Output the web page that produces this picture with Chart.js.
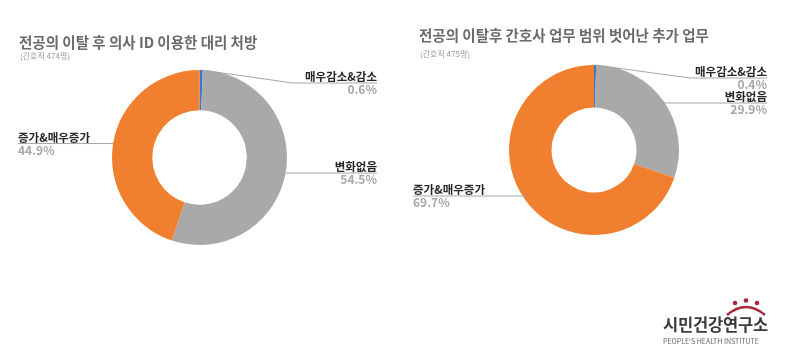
<!DOCTYPE html>
<html>
<head>
<meta charset="utf-8">
<script src="https://cdn.jsdelivr.net/npm/chart.js@4/dist/chart.umd.min.js"></script>
<style>
  body { margin: 0; background: #fff; font-family: "Noto Sans CJK KR", "Noto Sans", sans-serif; }
  #wrap { position: relative; width: 800px; height: 354px; overflow: hidden; }
  .box { position: absolute; top: 0; width: 400px; height: 354px; }
  .title { position: absolute; font-size: 14.5px; font-weight: bold; color: #6a6a6a; white-space: nowrap; }
  .sub { position: absolute; font-size: 8px; color: #9a9a9a; white-space: nowrap; }
  #logo { position: absolute; left: 660px; top: 294px; width: 120px; }
  #logo .kr { position: absolute; left: 3px; top: 18px; font-size: 16.5px; font-weight: bold; color: #3a3a3a; letter-spacing: -0.2px; white-space: nowrap; }
  #logo .en { position: absolute; left: 3px; top: 42px; font-size: 7px; color: #666; white-space: nowrap; letter-spacing: 0px; }
</style>
</head>
<body>
<div id="wrap">
  <div class="box" style="left:0"><canvas id="chartLeft" width="400" height="354"></canvas></div>
  <div class="box" style="left:400px"><canvas id="chartRight" width="400" height="354"></canvas></div>
  <div class="title" style="left:19px; top:31px">전공의 이탈 후 의사 ID 이용한 대리 처방</div>
  <div class="sub" style="left:20px; top:50px">(간호직 474명)</div>
  <div class="title" style="left:419px; top:24px">전공의 이탈후 간호사 업무 범위 벗어난 추가 업무</div>
  <div class="sub" style="left:420px; top:48px">(간호직 475명)</div>
  <div id="logo">
    <svg width="120" height="22" style="position:absolute;left:0;top:0">
      <circle cx="75" cy="9" r="2.3" fill="#a8283a"/>
      <circle cx="86" cy="6.5" r="2.3" fill="#a8283a"/>
      <circle cx="97" cy="9" r="2.3" fill="#a8283a"/>
      <path d="M67 21 Q86 5 105 21" stroke="#a8283a" stroke-width="2.6" fill="none"/>
    </svg>
    <div class="kr">시민건강연구소</div>
    <div class="en">PEOPLE'S HEALTH INSTITUTE</div>
  </div>
</div>
<script>
// 응답 항목
const categories = ['매우감소&감소', '변화없음', '증가&매우증가'];
// 의사 ID 이용한 대리 처방 (%)
const proxyPrescription = [0.6, 54.5, 44.9];
// 업무 범위 벗어난 추가 업무 (%)
const extraDuties = [0.4, 29.9, 69.7];
const sliceColors = ['#4472c4', '#a9a9a9', '#f0802f'];

// 라벨 + 지시선 그리기
const calloutPlugin = {
  id: 'callouts',
  afterDatasetsDraw(chart, args, opts) {
    const { ctx } = chart;
    const meta = chart.getDatasetMeta(0);
    const values = chart.data.datasets[0].data;
    meta.data.forEach((arc, i) => {
      const spec = opts.specs[i];
      const mid = (arc.startAngle + arc.endAngle) / 2;
      const ax = arc.x + Math.cos(mid) * arc.outerRadius;
      const ay = arc.y + Math.sin(mid) * arc.outerRadius;
      const lineY = spec.lineY !== undefined ? spec.lineY : ay;
      const elbowX = spec.elbowX !== undefined ? spec.elbowX : ax;
      ctx.save();
      ctx.strokeStyle = '#a6a6a6';
      ctx.lineWidth = 1;
      ctx.beginPath();
      ctx.moveTo(ax, ay);
      ctx.lineTo(elbowX, lineY);
      ctx.lineTo(spec.endX, lineY);
      ctx.stroke();
      ctx.textAlign = spec.side === 'left' ? 'left' : 'right';
      ctx.textBaseline = 'alphabetic';
      ctx.font = 'bold 11.5px "Noto Sans CJK KR"';
      ctx.fillStyle = '#262626';
      ctx.fillText(chart.data.labels[i], spec.endX, lineY - 2);
      ctx.font = 'bold 12px "Noto Sans CJK KR"';
      ctx.fillStyle = '#a6a6a6';
      ctx.fillText(values[i].toFixed(1) + '%', spec.endX, lineY + 11);
      ctx.restore();
    });
  }
};

function makeDonut(id, values, cutout, padding, specs) {
  const ctx = document.getElementById(id).getContext('2d');
  return new Chart(ctx, {
    type: 'doughnut',
    data: {
      labels: categories,
      datasets: [{
        data: values,
        backgroundColor: sliceColors,
        borderWidth: 0
      }]
    },
    options: {
      responsive: false,
      animation: false,
      cutout: cutout,
      layout: { padding: padding },
      plugins: {
        legend: { display: false },
        tooltip: { enabled: false },
        callouts: { specs: specs }
      }
    },
    plugins: [calloutPlugin]
  });
}

makeDonut('chartLeft', proxyPrescription, '54%',
  { left: 112, right: 113, top: 70, bottom: 109 },
  [
    { lineY: 83, elbowX: 293, endX: 377, side: 'right' },
    { endX: 377, side: 'right' },
    { endX: 18, side: 'left' }
  ]);

makeDonut('chartRight', extraDuties, '50%',
  { left: 109, right: 121, top: 65, bottom: 119 },
  [
    { lineY: 78, elbowX: 290, endX: 367, side: 'right' },
    { lineY: 103, endX: 367, side: 'right' },
    { lineY: 196, endX: 13, side: 'left' }
  ]);
</script>
</body>
</html>
